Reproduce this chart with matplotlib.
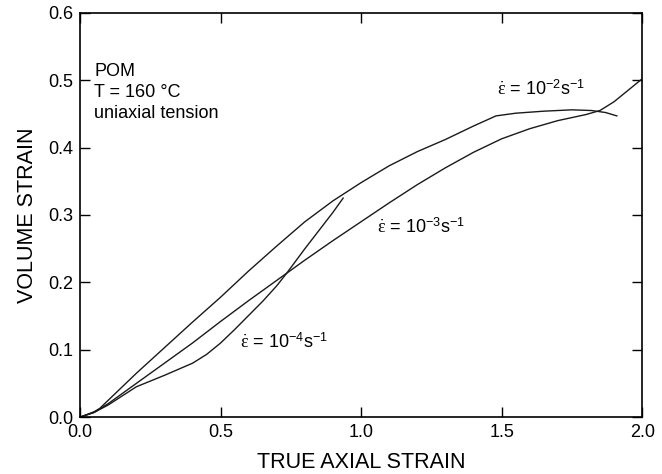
import numpy as np
import matplotlib
matplotlib.use("Agg")
import matplotlib.pyplot as plt

plt.rcParams["font.family"] = ["Liberation Sans", "DejaVu Sans"]
plt.rcParams["mathtext.fontset"] = "custom"
plt.rcParams["mathtext.rm"] = "Liberation Sans"
plt.rcParams["mathtext.it"] = "Liberation Serif"

# strain rate 1e-2 s^-1
x_r2 = [0.0, 0.05, 0.07, 0.1, 0.2, 0.3, 0.4, 0.5, 0.6, 0.7, 0.8, 0.9, 1.0,
        1.1, 1.2, 1.3, 1.4, 1.48, 1.55, 1.65, 1.75, 1.82, 1.87, 1.91]
y_r2 = [0.0, 0.008, 0.013, 0.025, 0.065, 0.103, 0.141, 0.178, 0.217, 0.254,
        0.29, 0.321, 0.348, 0.373, 0.394, 0.412, 0.432, 0.447, 0.451, 0.454,
        0.456, 0.455, 0.452, 0.447]

# strain rate 1e-3 s^-1
x_r3 = [0.0, 0.05, 0.1, 0.2, 0.3, 0.4, 0.5, 0.6, 0.7, 0.8, 0.9, 1.0, 1.1,
        1.2, 1.3, 1.4, 1.5, 1.6, 1.7, 1.8, 1.85, 1.9, 1.95, 2.0]
y_r3 = [0.0, 0.007, 0.02, 0.05, 0.08, 0.11, 0.142, 0.173, 0.203, 0.233,
        0.262, 0.29, 0.318, 0.345, 0.37, 0.393, 0.413, 0.428, 0.44, 0.449,
        0.455, 0.468, 0.485, 0.502]

# strain rate 1e-4 s^-1
x_r4 = [0.0, 0.05, 0.1, 0.2, 0.3, 0.35, 0.4, 0.45, 0.5, 0.55, 0.6, 0.65,
        0.7, 0.736, 0.8, 0.85, 0.9, 0.936]
y_r4 = [0.0, 0.007, 0.018, 0.045, 0.062, 0.071, 0.08, 0.093, 0.11, 0.13,
        0.151, 0.172, 0.195, 0.214, 0.25, 0.277, 0.304, 0.325]

rate_labels = [r"$\dot{\varepsilon}$ = 10$^{-2}$s$^{-1}$",
               r"$\dot{\varepsilon}$ = 10$^{-3}$s$^{-1}$",
               r"$\dot{\varepsilon}$ = 10$^{-4}$s$^{-1}$"]
label_pos = [(1.484, 0.487), (1.057, 0.282), (0.569, 0.111)]

fig = plt.figure(figsize=(6.62, 4.74), dpi=100)
ax = fig.add_axes([0.121, 0.120, 0.849, 0.853])

for xs, ys in [(x_r2, y_r2), (x_r3, y_r3), (x_r4, y_r4)]:
    ax.plot(xs, ys, color="#1a1a1a", linewidth=1.0)

for lab, (lx, ly) in zip(rate_labels, label_pos):
    ax.text(lx, ly, lab, fontsize=13, va="center", ha="left")

ax.text(0.05, 0.513, "POM", fontsize=13, va="center")
ax.text(0.05, 0.481, "T = 160 °C", fontsize=13, va="center")
ax.text(0.05, 0.450, "uniaxial tension", fontsize=13, va="center")

ax.set_xlim(0, 2.0); ax.set_ylim(0, 0.6)
ax.set_xticks([0.0, 0.5, 1.0, 1.5, 2.0])
ax.set_yticks([0.0, 0.1, 0.2, 0.3, 0.4, 0.5, 0.6])
ax.xaxis.set_major_formatter(matplotlib.ticker.FormatStrFormatter("%.1f"))
ax.yaxis.set_major_formatter(matplotlib.ticker.FormatStrFormatter("%.1f"))
ax.tick_params(direction="in", length=7, width=1.0, top=True, right=True,
               labelsize=13, pad=5)
for s in ax.spines.values():
    s.set_linewidth(1.2)
ax.set_xlabel("TRUE AXIAL STRAIN", fontsize=15.5, labelpad=8)
ax.set_ylabel("VOLUME STRAIN", fontsize=15.5, labelpad=7)

fig.savefig("out.png", dpi=100)
